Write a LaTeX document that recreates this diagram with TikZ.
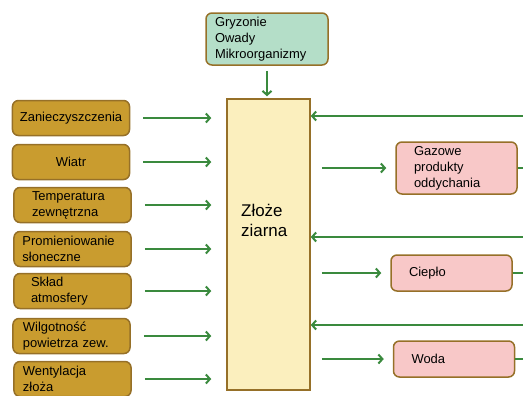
\documentclass[tikz,border=0pt]{standalone}
\usepackage{fontspec}
\setmainfont{Liberation Sans}
\usetikzlibrary{arrows.meta}
\definecolor{goldfill}{RGB}{201,156,47}
\definecolor{boxedge}{RGB}{150,112,40}
\definecolor{mintfill}{RGB}{180,222,200}
\definecolor{creamfill}{RGB}{251,239,190}
\definecolor{pinkfill}{RGB}{248,200,200}
\definecolor{arrgreen}{RGB}{58,138,62}
\begin{document}
\begin{tikzpicture}[x=1bp,y=-1bp,
  every node/.style={font=\fontsize{13}{16}\selectfont},
  box/.style={draw=boxedge,line width=1.5bp,rounded corners=6bp,inner sep=0pt},
  lbox/.style={box,fill=goldfill,minimum width=117bp,minimum height=35bp,align=left},
  pbox/.style={box,fill=pinkfill,text width=85bp,inner xsep=18bp,minimum height=36bp,align=left},
  conn/.style={draw=arrgreen,line width=2bp},
  arr/.style={conn,-{Straight Barb[length=4bp,width=9bp]}}]
\useasboundingbox (0,0) rectangle (523,395);
% left column
\node[lbox,align=center] (zan) at (71,118) {Zanieczyszczenia};
\node[lbox,align=center] (wia) at (71,162) {Wiatr};
\node[lbox,text width=81bp] (tem) at (72.5,205) {Temperatura\\zewnętrzna};
\node[lbox,text width=100bp] (pro) at (72.5,249) {Promieniowanie\\słoneczne};
\node[lbox,text width=83bp] (skl) at (72.5,291) {Skład\\atmosfery};
\node[lbox,text width=97bp] (wil) at (71.5,336) {Wilgotność\\powietrza zew.};
\node[lbox,text width=99bp] (wen) at (72.5,379) {Wentylacja\\złoża};
% bed of grain
\node[box,fill=creamfill,rounded corners=0pt,minimum width=83bp,minimum height=291bp] (zloze) at (268.5,244.5) {};
\node[anchor=west,align=left,inner sep=0pt,font=\fontsize{17}{20}\selectfont] (zt) at (241,220) {Złoże\\ziarna};
\node[box,fill=mintfill,text width=104bp,inner xsep=9bp,minimum height=52bp,align=left] (gry) at (267,39) {Gryzonie\\Owady\\Mikroorganizmy};
% right column
\node[pbox,minimum height=52bp] (gaz) at (456.5,168) {Gazowe\\produkty\\oddychania};
\node[pbox] (cie) at (451.5,273) {Ciepło};
\node[pbox] (wod) at (454,359) {Woda};
\coordinate (r1) at (523,116);
\coordinate (r2) at (523,237);
\coordinate (r3) at (523,325);
% connectors
\foreach \n in {zan,wia,tem,pro,skl,wil,wen}
  \draw[arr,shorten <=13bp,shorten >=15bp] (\n.east) -- (zloze.west |- \n.east);
\draw[arr,shorten <=5bp,shorten >=2bp] (gry.south) -- (gry.south |- zloze.north);
\foreach \r in {r1,r2,r3}
  \draw[arr] (\r) -- (zloze.east |- \r);
\foreach \n in {gaz,cie,wod}{
  \draw[arr,shorten <=11bp,shorten >=9bp] (zloze.east |- \n.west) -- (\n.west);
  \draw[conn] (\n.east) -- (r1 |- \n.east);
}
\end{tikzpicture}
\end{document}
